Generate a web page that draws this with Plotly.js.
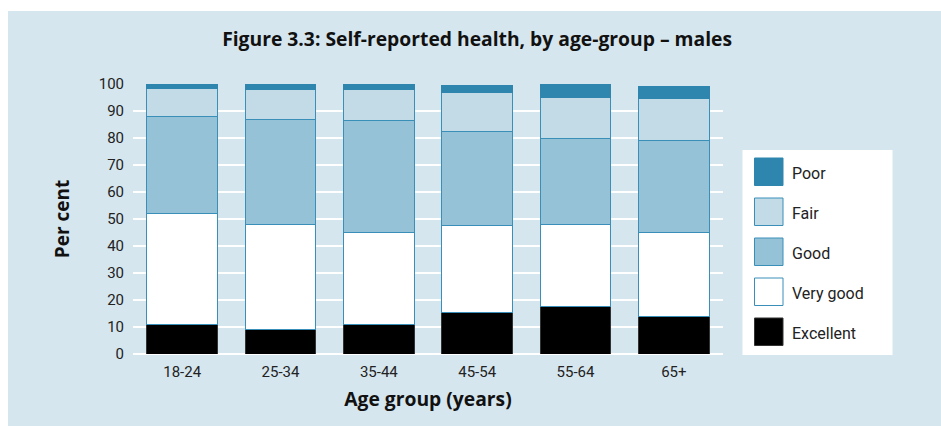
<!DOCTYPE html>
<html>
<head>
<meta charset="utf-8">
<script src="https://cdn.plot.ly/plotly-3.0.1.min.js"></script>
<style>html,body{margin:0;padding:0;background:#fff;}#chart{width:941px;height:426px;}</style>
</head>
<body>
<div id="chart"></div>
<script>
// ---- data ----
var categories = ["18-24", "25-34", "35-44", "45-54", "55-64", "65+"];
var excellent = [11, 9, 11, 15.5, 17.5, 14];
var veryGood  = [41, 39, 34, 32, 30.5, 31];
var good      = [36, 39, 41.5, 35, 32, 34];
var fair      = [10.5, 11, 11.5, 14.5, 15, 15.5];
var poor      = [1.5, 2, 2, 2.5, 5, 4.5];
var seriesNames = ["Excellent", "Very good", "Good", "Fair", "Poor"];
var yTicks = [0, 10, 20, 30, 40, 50, 60, 70, 80, 90, 100];

// ---- styles ----
var fills = ["#000000", "#ffffff", "#96c2d7", "#c2dbe6", "#2e86ae"];
var lines = ["#333333", "#3a8fb8", "#3a8fb8", "#3a8fb8", "#2e86ae"];
var values = [excellent, veryGood, good, fair, poor];
var FONT = "Roboto, 'Liberation Sans', Arial, sans-serif";
var BFONT = "'Open Sans', Roboto, Arial, sans-serif";

var W = 941, H = 426;
var M = {l: 133, r: 218, t: 84, b: 72};
var PW = W - M.l - M.r, PH = H - M.t - M.b;
function px2x(px) { return (px - M.l) / PW; }
function px2y(py) { return (H - M.b - py) / PH; }

var traces = values.map(function (v, i) {
  return {
    type: "bar", x: categories, y: v, name: seriesNames[i],
    marker: {color: fills[i], line: {color: lines[i], width: 1}},
    showlegend: false, hoverinfo: "x+y+name"
  };
});

var shapes = [
  // panel background
  {type: "rect", xref: "paper", yref: "paper", x0: px2x(8), x1: px2x(941), y0: px2y(426), y1: px2y(11),
   fillcolor: "#d6e6ee", line: {width: 0}, layer: "below"},
  // legend box
  {type: "rect", xref: "paper", yref: "paper", x0: px2x(742.5), x1: px2x(892.5), y0: px2y(355), y1: px2y(150),
   fillcolor: "#ffffff", line: {width: 0}, layer: "above"}
];
var annotations = [];
// legend entries, top to bottom: Poor ... Excellent
for (var k = 0; k < seriesNames.length; k++) {
  var idx = seriesNames.length - 1 - k;
  var rowTop = 158 + k * 40;
  shapes.push({type: "rect", xref: "paper", yref: "paper",
    x0: px2x(754.5), x1: px2x(783), y0: px2y(rowTop + 27.5), y1: px2y(rowTop),
    fillcolor: fills[idx], line: {color: lines[idx], width: 1}, layer: "above"});
  annotations.push({xref: "paper", yref: "paper", x: px2x(790), y: px2y(rowTop + 15),
    xanchor: "left", yanchor: "middle", showarrow: false, text: seriesNames[idx],
    font: {family: FONT, size: 16, color: "#222"}});
}

var layout = {
  width: W, height: H,
  margin: M,
  paper_bgcolor: "#ffffff",
  plot_bgcolor: "rgba(0,0,0,0)",
  barmode: "stack",
  bargap: 0.28,
  title: {text: "<b>Figure 3.3: Self-reported health, by age-group – males</b>",
          x: 0.507, xref: "container", y: 0.908, yref: "container", yanchor: "middle",
          font: {family: BFONT, size: 19.3, color: "#111"}},
  xaxis: {
    type: "category", range: [-0.5, 5.5], showgrid: false, zeroline: false, showline: false,
    ticks: "", ticklabelstandoff: 7, tickfont: {family: FONT, size: 15, color: "#222"},
    title: {text: "<b>Age group (years)</b>", font: {family: BFONT, size: 19.3, color: "#111"}, standoff: 12}
  },
  yaxis: {
    range: [0, 100], tickvals: yTicks, ticktext: yTicks.map(String),
    showgrid: true, gridcolor: "#ffffff", gridwidth: 2, zeroline: true, zerolinecolor: "#ffffff", zerolinewidth: 2,
    showline: false, ticks: "", ticklabelstandoff: 8,
    tickfont: {family: FONT, size: 15, color: "#222"},
    title: {text: "<b>Per cent</b>", font: {family: BFONT, size: 19, color: "#111"}, standoff: 24}
  },
  shapes: shapes,
  annotations: annotations
};

Plotly.newPlot("chart", traces, layout, {displayModeBar: false, staticPlot: true});
</script>
</body>
</html>
